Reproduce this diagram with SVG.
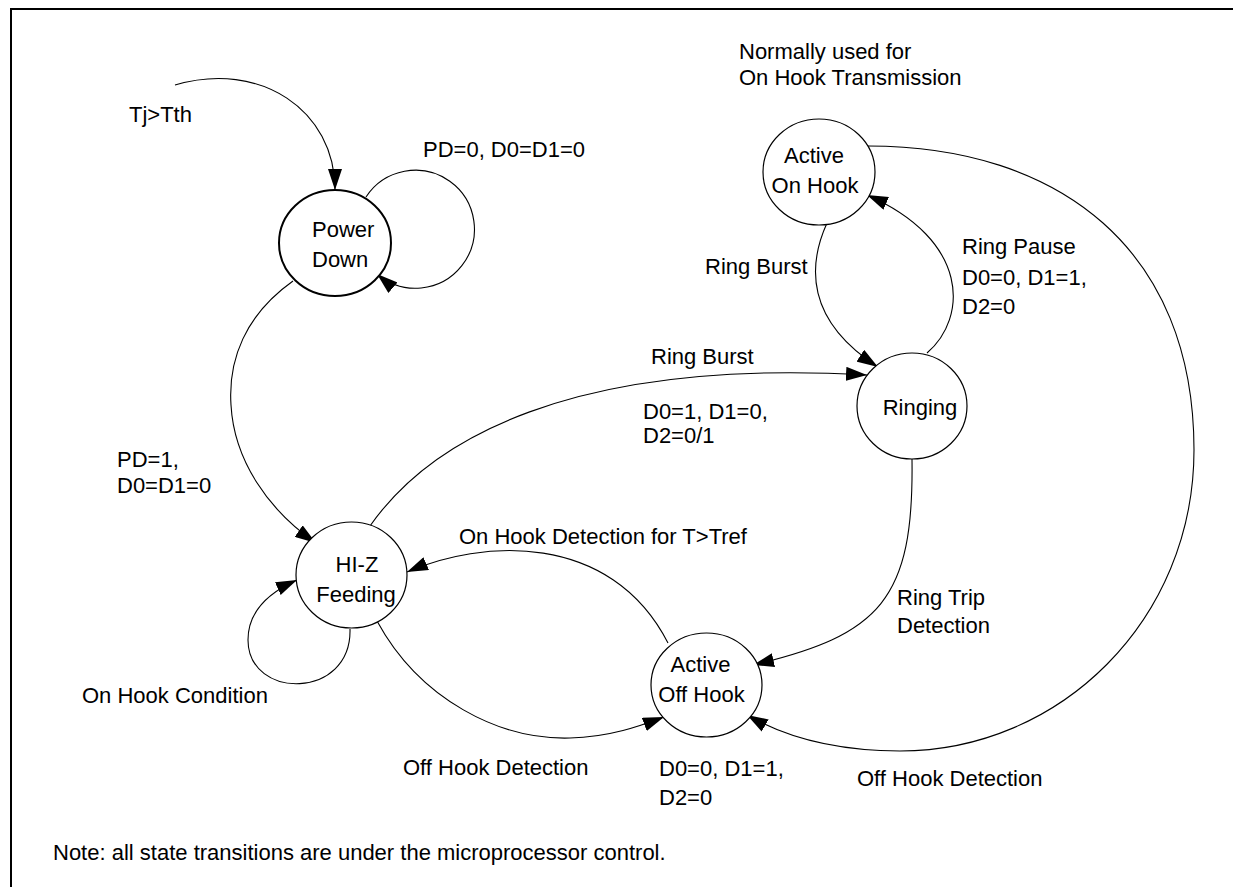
<svg xmlns="http://www.w3.org/2000/svg" width="1233" height="887" viewBox="0 0 1233 887">
<style>
text{font-family:"Liberation Sans",Arial,sans-serif;font-size:22px;fill:#000}
.n{fill:#fff;stroke:#000;stroke-width:1.2}
.c{fill:none;stroke:#000;stroke-width:1.1;marker-end:url(#arr)}
.m{text-anchor:middle}
</style>
<defs>
<marker id="arr" markerUnits="userSpaceOnUse" markerWidth="21" markerHeight="14" refX="21" refY="7" orient="auto" viewBox="0 0 21 14">
<path d="M0,0 L21,7 L0,14 z" fill="#000"/>
</marker>
</defs>
<rect x="11" y="9" width="1240" height="900" fill="#fff" stroke="#000" stroke-width="2"/>
<g id="connectors">
<path class="c" d="M175,85 C260,60 335,110 335,190"/>
<path class="c" d="M366,197 A59,59 0 1 1 377,274"/>
<path class="c" d="M293,281 C245,315 228,360 231,405 C234,460 268,510 316,543"/>
<path class="c" d="M350,629 C352,700 248,700 248,640 C248,610 270,592 297,580"/>
<path class="c" d="M370,526 C430,440 570,358 867,375"/>
<path class="c" d="M827,223 C808,265 805,320 878,367"/>
<path class="c" d="M927,353 C968,318 970,240 867,195"/>
<path class="c" d="M868,146 C1060,146 1194,250 1194,450 C1194,620 1060,751 900,751 C840,751 790,740 747,715"/>
<path class="c" d="M912,459 C914,600 880,635 753,665"/>
<path class="c" d="M668,643 C610,530 480,540 407,572"/>
<path class="c" d="M377,621 C420,700 500,740 570,738 C610,737 640,726 664,717"/>
</g>
<g id="power-down">
<ellipse class="n" cx="335" cy="243" rx="56" ry="53" style="stroke-width:2"/>
<text x="312" y="237">Power</text>
<text x="312" y="267">Down</text>
</g>
<g id="active-on-hook">
<ellipse class="n" cx="819" cy="172" rx="56" ry="53"/>
<text class="m" x="814" y="163">Active</text>
<text class="m" x="815" y="193">On Hook</text>
</g>
<g id="ringing">
<ellipse class="n" cx="912" cy="406" rx="55" ry="53"/>
<text class="m" x="920" y="415">Ringing</text>
</g>
<g id="hi-z-feeding">
<ellipse class="n" cx="351.5" cy="575" rx="55.5" ry="53"/>
<text class="m" x="357" y="572">HI-Z</text>
<text class="m" x="356" y="602">Feeding</text>
</g>
<g id="active-off-hook">
<ellipse class="n" cx="706.5" cy="685" rx="55.5" ry="52"/>
<text class="m" x="700.5" y="672">Active</text>
<text class="m" x="701.5" y="702">Off Hook</text>
</g>
<g id="labels">
<text x="129" y="122">Tj&gt;Tth</text>
<text x="423" y="157">PD=0, D0=D1=0</text>
<text x="739" y="59">Normally used for</text>
<text x="739" y="85">On Hook Transmission</text>
<text x="705" y="274">Ring Burst</text>
<text x="962" y="254">Ring Pause</text>
<text x="962" y="285">D0=0, D1=1,</text>
<text x="962" y="314">D2=0</text>
<text x="651" y="364">Ring Burst</text>
<text x="643" y="419">D0=1, D1=0,</text>
<text x="643" y="443">D2=0/1</text>
<text x="117" y="467">PD=1,</text>
<text x="117" y="493">D0=D1=0</text>
<text x="459" y="544">On Hook Detection for T&gt;Tref</text>
<text x="897" y="605">Ring Trip</text>
<text x="897" y="633">Detection</text>
<text x="82" y="703">On Hook Condition</text>
<text x="403" y="775">Off Hook Detection</text>
<text x="659" y="776">D0=0, D1=1,</text>
<text x="659" y="805">D2=0</text>
<text x="857" y="786">Off Hook Detection</text>
<text x="53" y="860">Note: all state transitions are under the microprocessor control.</text>
</g>
</svg>
